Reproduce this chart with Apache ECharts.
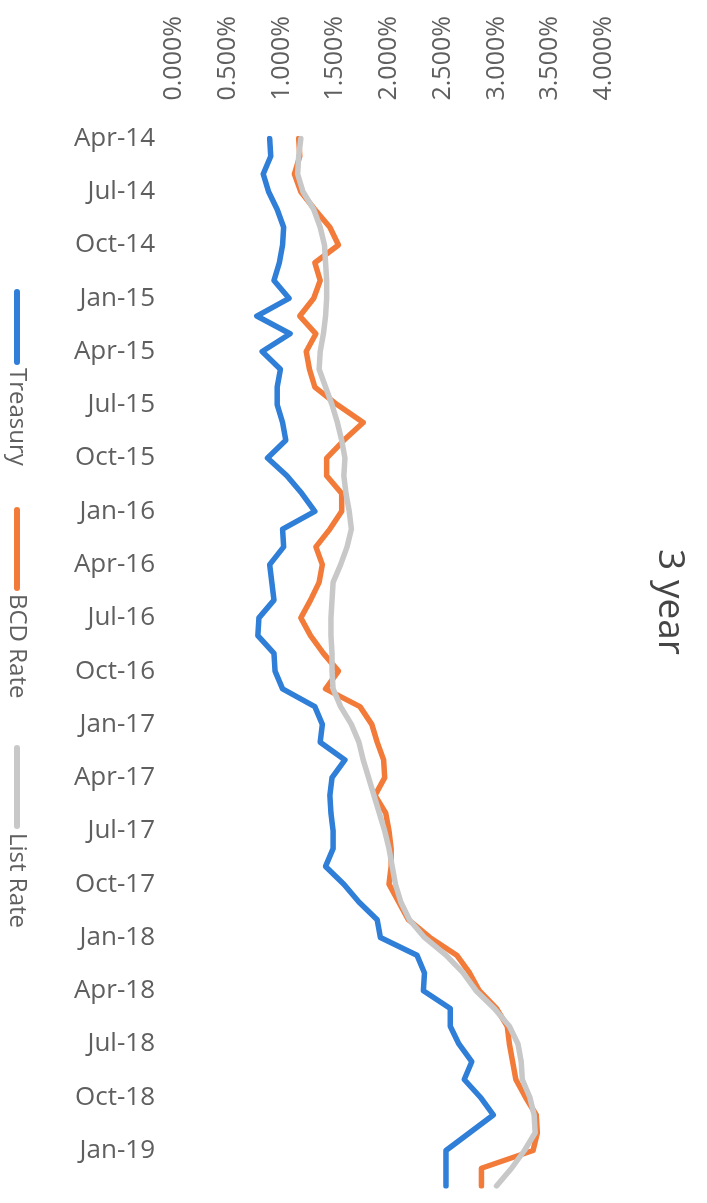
<!DOCTYPE html>
<html>
<head>
<meta charset="utf-8">
<script src="https://cdn.jsdelivr.net/npm/echarts@6/dist/echarts.min.js"></script>
<style>
  html, body { margin: 0; padding: 0; background: #ffffff; }
  #chart { width: 707px; height: 1203px; }
</style>
</head>
<body>
<div id="chart"></div>
<script>
// Monthly 3-year rates, Apr-14 .. Mar-19 (percent)
const months = [
  'Apr-14','May-14','Jun-14','Jul-14','Aug-14','Sep-14','Oct-14','Nov-14','Dec-14',
  'Jan-15','Feb-15','Mar-15','Apr-15','May-15','Jun-15','Jul-15','Aug-15','Sep-15','Oct-15','Nov-15','Dec-15',
  'Jan-16','Feb-16','Mar-16','Apr-16','May-16','Jun-16','Jul-16','Aug-16','Sep-16','Oct-16','Nov-16','Dec-16',
  'Jan-17','Feb-17','Mar-17','Apr-17','May-17','Jun-17','Jul-17','Aug-17','Sep-17','Oct-17','Nov-17','Dec-17',
  'Jan-18','Feb-18','Mar-18','Apr-18','May-18','Jun-18','Jul-18','Aug-18','Sep-18','Oct-18','Nov-18','Dec-18',
  'Jan-19','Feb-19','Mar-19'
];

const treasury = [
  0.89, 0.90, 0.83, 0.88, 0.96, 1.02, 1.01, 0.98, 0.93,
  1.07, 0.77, 1.08, 0.82, 0.99, 0.96, 0.96, 1.01, 1.04, 0.87, 1.05, 1.19,
  1.31, 1.01, 1.02, 0.89, 0.91, 0.93, 0.79, 0.78, 0.93, 0.94, 1.01, 1.31,
  1.38, 1.36, 1.59, 1.47, 1.45, 1.46, 1.48, 1.48, 1.41, 1.58, 1.72, 1.89,
  1.92, 2.26, 2.33, 2.32, 2.57, 2.57, 2.65, 2.77, 2.70, 2.85, 2.97, 2.75,
  2.53, 2.53, 2.53
];

const bcdRate = [
  1.16, 1.17, 1.12, 1.18, 1.31, 1.45, 1.53, 1.31, 1.36,
  1.30, 1.17, 1.32, 1.23, 1.26, 1.31, 1.52, 1.76, 1.58, 1.42, 1.42, 1.56,
  1.56, 1.45, 1.32, 1.38, 1.35, 1.27, 1.18, 1.27, 1.39, 1.53, 1.41, 1.73,
  1.84, 1.89, 1.95, 1.96, 1.87, 1.97, 2.00, 2.02, 2.02, 2.00, 2.09, 2.18,
  2.38, 2.63, 2.75, 2.84, 3.00, 3.10, 3.12, 3.15, 3.18, 3.27, 3.37, 3.38,
  3.34, 2.86, 2.86
];

const listRate = [
  1.18, 1.16, 1.15, 1.20, 1.30, 1.36, 1.40, 1.41, 1.42,
  1.42, 1.41, 1.39, 1.36, 1.35, 1.41, 1.47, 1.52, 1.56, 1.59, 1.58, 1.60,
  1.63, 1.65, 1.61, 1.55, 1.48, 1.47, 1.46, 1.46, 1.47, 1.47, 1.48, 1.55,
  1.65, 1.72, 1.76, 1.81, 1.86, 1.91, 1.96, 2.00, 2.03, 2.06, 2.11, 2.19,
  2.33, 2.53, 2.69, 2.81, 2.98, 3.12, 3.20, 3.23, 3.24, 3.31, 3.35, 3.36,
  3.26, 3.14, 3.00
];

const seriesNames = ['Treasury', 'BCD Rate', 'List Rate'];
const seriesValues = [treasury, bcdRate, listRate];
const chartTitle = '3 year';

// Rate axis: 0% .. 4% every 0.5%
const rateMin = 0;
const rateMax = 4;
const rateStep = 0.5;

const seriesColors = ['#2F7ED8', '#F27B3A', '#C8C8C8'];
const textColor = '#5f5f5f';
const fontFamily = '"Open Sans", "DejaVu Sans", sans-serif';

// Legend runs top-to-bottom along the left edge, rotated with the chart
const legendLayout = [
  { lineFrom: 292, lineTo: 362, textAt: 368 },
  { lineFrom: 510, lineTo: 588, textAt: 594 },
  { lineFrom: 748, lineTo: 826, textAt: 833 }
];

const chart = echarts.init(document.getElementById('chart'), null, { renderer: 'canvas' });

const legendGraphics = [];
seriesNames.forEach(function (name, i) {
  const l = legendLayout[i];
  legendGraphics.push({
    type: 'line',
    shape: { x1: 17, y1: l.lineFrom, x2: 17, y2: l.lineTo },
    style: { stroke: seriesColors[i], lineWidth: 6, lineCap: 'round' },
    silent: true
  });
  legendGraphics.push({
    type: 'text',
    x: 17,
    y: l.textAt,
    rotation: -Math.PI / 2,
    style: {
      text: name,
      fill: textColor,
      font: '24px ' + fontFamily,
      align: 'left',
      verticalAlign: 'middle'
    },
    silent: true
  });
});

legendGraphics.push({
  type: 'text',
  x: 670,
  y: 602,
  rotation: -Math.PI / 2,
  style: {
    text: chartTitle,
    fill: '#454545',
    font: '37px ' + fontFamily,
    align: 'center',
    verticalAlign: 'middle'
  },
  silent: true
});

chart.setOption({
  animation: false,
  backgroundColor: '#ffffff',
  grid: {
    left: 174,
    right: 103,
    top: 138.5,
    bottom: 17,
    containLabel: false,
    outerBoundsMode: 'none'
  },
  xAxis: {
    type: 'value',
    position: 'top',
    min: rateMin,
    max: rateMax,
    interval: rateStep,
    axisLine: { show: false },
    axisTick: { show: false },
    splitLine: { show: false },
    axisLabel: {
      rotate: -90,
      margin: 38,
      color: textColor,
      fontSize: 25,
      fontFamily: fontFamily,
      hideOverlap: false,
      formatter: function (v) { return v.toFixed(3) + '%'; }
    }
  },
  yAxis: {
    type: 'category',
    data: months,
    inverse: true,
    boundaryGap: false,
    axisLine: { show: false },
    axisTick: { show: false },
    splitLine: { show: false },
    axisLabel: {
      interval: 2,
      margin: 19,
      color: textColor,
      fontSize: 26,
      fontFamily: fontFamily,
      hideOverlap: false
    }
  },
  series: seriesNames.map(function (name, i) {
    return {
      name: name,
      type: 'line',
      data: seriesValues[i],
      symbol: 'none',
      showSymbol: false,
      smooth: false,
      lineStyle: {
        color: seriesColors[i],
        width: 5.5,
        cap: 'round',
        join: 'round'
      },
      itemStyle: { color: seriesColors[i] }
    };
  }),
  graphic: legendGraphics
});
</script>
</body>
</html>
